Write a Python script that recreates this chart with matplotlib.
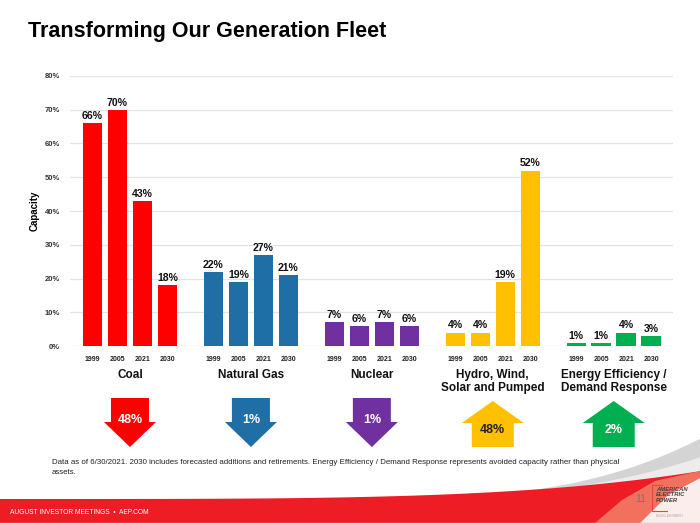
import numpy as np
import matplotlib
matplotlib.use("Agg")
import matplotlib.pyplot as plt
from matplotlib.patches import Polygon

plt.rcParams["font.family"] = ["Liberation Sans", "DejaVu Sans"]

CATEGORIES = ["Coal", "Natural Gas", "Nuclear", "Hydro, Wind,\nSolar and Pumped",
              "Energy Efficiency /\nDemand Response"]
YEARS = ["1999", "2005", "2021", "2030"]
COAL = [66, 70, 43, 18]
NATURAL_GAS = [22, 19, 27, 21]
NUCLEAR = [7, 6, 7, 6]
RENEWABLES = [4, 4, 19, 52]
EFFICIENCY = [1, 1, 4, 3]
SERIES = [COAL, NATURAL_GAS, NUCLEAR, RENEWABLES, EFFICIENCY]
COLORS = ["#FF0000", "#1F6FA6", "#7030A0", "#FFC000", "#00B050"]
ARROW_TEXT = ["white", "white", "white", "#222222", "white"]

TITLE = "Transforming Our Generation Fleet"
NOTE = ("Data as of 6/30/2021. 2030 includes forecasted additions and retirements. "
        "Energy Efficiency / Demand Response represents avoided capacity rather than physical\nassets.")

W, H = 700, 523
fig = plt.figure(figsize=(W / 100, H / 100), dpi=100)
ax = fig.add_axes([0.1, 0.3384, 0.861, 0.5163])

GROUP_STEP = 4.84
positions, labels = [], []
for g, (vals, col) in enumerate(zip(SERIES, COLORS)):
    xs = [g * GROUP_STEP + i for i in range(len(vals))]
    ax.bar(xs, vals, width=0.78, color=col, zorder=3)
    for x, v in zip(xs, vals):
        ax.text(x, v + 0.6, f"{v}%", ha="center", va="bottom", fontsize=7.6,
                fontweight="bold", color="#111111", zorder=4)
    positions += xs
    labels += YEARS

ax.set_xlim(-0.9, 4 * GROUP_STEP + 3 + 0.86)
ax.set_ylim(0, 80)
ax.set_yticks(range(0, 81, 10))
ax.set_yticklabels([f"{t}%" for t in range(0, 81, 10)], fontsize=5.5,
                   fontweight="bold", color="#333333")
ax.set_xticks(positions)
ax.set_xticklabels(labels, fontsize=5, fontweight="bold", color="#222222")
ax.tick_params(axis="both", length=0)
ax.tick_params(axis="x", pad=7)
ax.tick_params(axis="y", pad=7)
ax.grid(axis="y", color="#E3E3E3", linewidth=0.9, zorder=0)
for s in ax.spines.values():
    s.set_visible(False)
ax.set_ylabel("Capacity", fontsize=7, fontweight="bold", labelpad=4)

# overlays in pixel coordinates (origin top-left)
ov = fig.add_axes([0, 0, 1, 1], zorder=-1)
ov.set_xlim(0, W)
ov.set_ylim(H, 0)
ov.axis("off")
top = fig.add_axes([0, 0, 1, 1], zorder=5)
top.set_xlim(0, W)
top.set_ylim(H, 0)
top.axis("off")

fig.text(28 / W, 1 - 31 / H, TITLE, fontsize=15.5, fontweight="bold", va="center")

for g, (name, vals, col, tcol) in enumerate(zip(CATEGORIES, SERIES, COLORS, ARROW_TEXT)):
    cx = ax.transData.transform((g * GROUP_STEP + 1.5, 0))[0]
    top.text(cx, 369, name, ha="center", va="top", fontsize=8.5, fontweight="bold",
             linespacing=1.1, color="#111111")
    change = vals[-1] - vals[0]
    if change < 0:
        pts = [(cx - 19, 398), (cx + 19, 398), (cx + 19, 422), (cx + 26, 422),
               (cx, 447), (cx - 26, 422), (cx - 19, 422)]
        ty = 420
    else:
        pts = [(cx - 21, 447), (cx + 21, 447), (cx + 21, 423), (cx + 31, 423),
               (cx, 401), (cx - 31, 423), (cx - 21, 423)]
        ty = 430
    top.add_patch(Polygon(pts, closed=True, facecolor=col, edgecolor="none"))
    top.text(cx, ty, f"{abs(change)}%", ha="center", va="center", fontsize=9,
             fontweight="bold", color=tcol)

top.text(52, 459, NOTE, ha="left", va="top", fontsize=5.7, color="#222222",
         linespacing=1.5)

# footer swoosh
xs = np.linspace(0, 700, 300)
red_top = 499 - 22 * (xs / 660) ** 4
grey_top = np.where(xs > 350, 498 - 60 * (np.clip(xs - 350, 0, None) / 350) ** 3, 499)
ov.fill_between(xs, red_top, grey_top, where=xs > 350, color="#D4D4D4", lw=0)
ov.fill_between(xs, red_top, (red_top + grey_top) / 2 + 2, where=xs > 350,
                color="#ECECEC", lw=0)
ov.fill_between(xs, 523, red_top, color="#EE1C25", lw=0)
salmon = [(595, 523), (622, 500), (655, 481), (700, 471), (700, 478), (668, 495), (640, 523)]
ov.add_patch(Polygon(salmon, closed=True, facecolor="#F2705E", edgecolor="none"))
pink = [(640, 523), (668, 495), (700, 478), (700, 523)]
ov.add_patch(Polygon(pink, closed=True, facecolor="#FBEDEA", edgecolor="none"))
ov.plot([0, 700], [522.5, 522.5], color="#BBBBBB", lw=1)

top.text(10, 512, "AUGUST INVESTOR MEETINGS  \u2022  AEP.COM", fontsize=4.8, color="white",
         va="center", ha="left")
top.text(641, 499, "11", fontsize=7.5, color="#777777", ha="center", va="center")
top.plot([662, 652, 652, 667], [485, 485, 511, 511], color="#E5473A", lw=0.8)
top.text(656, 495, "AMERICAN\nELECTRIC\nPOWER", fontsize=4.2, fontweight="bold",
         style="italic", color="#444444", ha="left", va="center", linespacing=1.05)
top.text(670, 516, "BOUNDLESS ENERGY", fontsize=1.8, color="#999999", ha="center",
         va="center")

fig.savefig("out.png", dpi=100)
